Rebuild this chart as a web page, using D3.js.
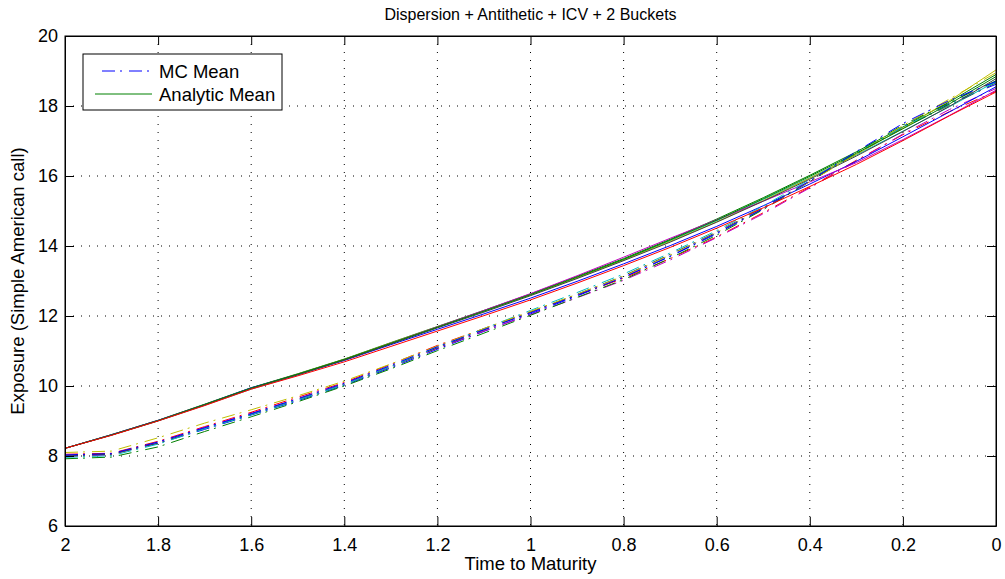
<!DOCTYPE html>
<html>
<head>
<meta charset="utf-8">
<script src="https://cdn.jsdelivr.net/npm/d3@7"></script>
<style>
  body { margin: 0; background: #fff; }
  text { font-family: "Liberation Sans", Arial, sans-serif; fill: #000; }
</style>
</head>
<body>
<svg width="1005" height="579"></svg>
<script>
// time to maturity grid (x), same for every run
const times = [2.0, 1.9, 1.8, 1.7, 1.6, 1.5, 1.4, 1.3, 1.2, 1.1, 1.0, 0.9, 0.8, 0.7, 0.6, 0.5, 0.4, 0.3, 0.2, 0.1, 0.0]

const xTicks = [2, 1.8, 1.6, 1.4, 1.2, 1, 0.8, 0.6, 0.4, 0.2, 0]
const yTicks = [6, 8, 10, 12, 14, 16, 18, 20]

// MC mean runs (dash-dot)
const mc1 = [8.02, 8.06, 8.36, 8.76, 9.17, 9.58, 10.02, 10.52, 11.05, 11.56, 12.06, 12.57, 13.10, 13.70, 14.35, 15.06, 15.84, 16.64, 17.42, 18.08, 18.62]
const mc2 = [8.05, 8.08, 8.42, 8.84, 9.25, 9.68, 10.10, 10.62, 11.16, 11.64, 12.12, 12.60, 13.08, 13.64, 14.26, 14.95, 15.68, 16.45, 17.18, 17.84, 18.42]
const mc3 = [7.98, 8.03, 8.40, 8.82, 9.22, 9.63, 10.06, 10.57, 11.08, 11.57, 12.04, 12.52, 13.02, 13.60, 14.24, 14.92, 15.66, 16.42, 17.20, 17.90, 18.50]
const mc4 = [8.00, 8.05, 8.37, 8.79, 9.19, 9.61, 10.04, 10.55, 11.09, 11.60, 12.11, 12.62, 13.15, 13.76, 14.40, 15.10, 15.85, 16.63, 17.38, 18.02, 18.66]
const mc5 = [7.92, 7.97, 8.26, 8.70, 9.12, 9.55, 10.00, 10.49, 11.01, 11.51, 12.02, 12.53, 13.04, 13.65, 14.31, 15.04, 15.84, 16.68, 17.46, 18.10, 18.72]
const mc6 = [7.96, 8.01, 8.34, 8.78, 9.18, 9.60, 10.04, 10.56, 11.12, 11.64, 12.16, 12.67, 13.20, 13.80, 14.44, 15.14, 15.90, 16.66, 17.40, 18.04, 18.68]
const mc7 = [8.10, 8.14, 8.52, 8.94, 9.32, 9.72, 10.14, 10.63, 11.14, 11.64, 12.13, 12.62, 13.14, 13.74, 14.38, 15.08, 15.84, 16.62, 17.44, 18.20, 18.95]
const mc8 = [8.03, 8.07, 8.40, 8.81, 9.21, 9.64, 10.08, 10.59, 11.12, 11.61, 12.09, 12.59, 13.11, 13.71, 14.37, 15.07, 15.86, 16.70, 17.50, 18.16, 18.70]

// analytic mean runs (solid)
const an1 = [8.22, 8.61, 9.02, 9.48, 9.95, 10.35, 10.77, 11.24, 11.70, 12.16, 12.63, 13.13, 13.64, 14.19, 14.77, 15.38, 16.02, 16.69, 17.40, 18.12, 18.90]
const an2 = [8.22, 8.60, 9.00, 9.45, 9.91, 10.31, 10.74, 11.21, 11.67, 12.13, 12.60, 13.09, 13.61, 14.15, 14.72, 15.33, 15.95, 16.60, 17.28, 17.98, 18.70]
const an3 = [8.22, 8.61, 9.02, 9.47, 9.94, 10.34, 10.76, 11.23, 11.69, 12.14, 12.60, 13.09, 13.60, 14.13, 14.69, 15.30, 15.94, 16.62, 17.36, 18.15, 19.03]
const an4 = [8.22, 8.61, 9.02, 9.47, 9.95, 10.33, 10.73, 11.18, 11.62, 12.06, 12.51, 12.99, 13.49, 14.01, 14.56, 15.15, 15.77, 16.42, 17.12, 17.83, 18.55]
const an5 = [8.22, 8.60, 9.01, 9.46, 9.93, 10.33, 10.75, 11.22, 11.69, 12.16, 12.64, 13.15, 13.68, 14.22, 14.75, 15.28, 15.83, 16.38, 17.04, 17.73, 18.45]
const an6 = [8.22, 8.60, 9.01, 9.46, 9.93, 10.32, 10.74, 11.20, 11.66, 12.11, 12.58, 13.07, 13.58, 14.11, 14.68, 15.28, 15.91, 16.57, 17.27, 17.99, 18.78]
const an7 = [8.22, 8.60, 9.01, 9.47, 9.94, 10.34, 10.76, 11.22, 11.68, 12.14, 12.61, 13.11, 13.62, 14.17, 14.74, 15.35, 15.99, 16.65, 17.35, 18.06, 18.84]
const an8 = [8.22, 8.59, 9.00, 9.44, 9.91, 10.29, 10.69, 11.13, 11.57, 12.01, 12.46, 12.94, 13.44, 13.96, 14.51, 15.09, 15.70, 16.33, 17.01, 17.72, 18.40]

// matlab colours
const B = "#0000ff", G = "#008000", R = "#ff0000", C = "#00bfbf", M = "#bf00bf", Y = "#bfbf00", K = "#404040"

const mcRuns = [mc1, mc2, mc3, mc4, mc5, mc6, mc7, mc8]
const mcColors = [B, R, M, K, G, C, Y, B]
const anRuns = [an1, an2, an3, an4, an5, an6, an7, an8]
const anColors = [G, C, Y, B, M, K, G, R]

const svg = d3.select("svg")
const mLeft = 65, mRight = 996, mTop = 36, mBottom = 526

const x = d3.scaleLinear().domain([2, 0]).range([mLeft, mRight])
const y = d3.scaleLinear().domain([6, 20]).range([mBottom, mTop])

// grid
const grid = svg.append("g")
grid.selectAll(".gx").data(xTicks.slice(1, -1)).enter().append("line")
    .attr("x1", d => x(d)).attr("x2", d => x(d))
    .attr("y1", mTop).attr("y2", mBottom)
    .attr("stroke", "#000").attr("stroke-width", 1).attr("stroke-dasharray", "1,7")
grid.selectAll(".gy").data(yTicks.slice(1, -1)).enter().append("line")
    .attr("x1", mLeft).attr("x2", mRight)
    .attr("y1", d => y(d)).attr("y2", d => y(d))
    .attr("stroke", "#000").attr("stroke-width", 1).attr("stroke-dasharray", "1,7")

// runs, drawn in pairs as in the original plot
const line = d3.line().x((d, i) => x(times[i])).y(d => y(d))
const plot = svg.append("g")
mcRuns.forEach((run, i) => {
    plot.append("path").datum(run)
        .attr("d", line).attr("fill", "none")
        .attr("stroke", mcColors[i]).attr("stroke-width", 1)
        .attr("stroke-dasharray", "13,5,2,7")
    plot.append("path").datum(anRuns[i])
        .attr("d", line).attr("fill", "none")
        .attr("stroke", anColors[i]).attr("stroke-width", 1)
})

// axes with inward ticks on all sides
const tickFont = 18, labelFont = 18.5
svg.append("g").attr("transform", `translate(0,${mBottom})`)
    .call(d3.axisBottom(x).tickValues(xTicks).tickFormat(d3.format("")).tickSizeInner(-9).tickSizeOuter(0).tickPadding(12))
svg.append("g").attr("transform", `translate(0,${mTop})`)
    .call(d3.axisTop(x).tickValues(xTicks).tickFormat("").tickSizeInner(-9).tickSizeOuter(0))
svg.append("g").attr("transform", `translate(${mLeft},0)`)
    .call(d3.axisLeft(y).tickValues(yTicks).tickSizeInner(-9).tickSizeOuter(0).tickPadding(7))
svg.append("g").attr("transform", `translate(${mRight},0)`)
    .call(d3.axisRight(y).tickValues(yTicks).tickFormat("").tickSizeInner(-9).tickSizeOuter(0))

svg.selectAll(".domain").attr("stroke", "#000")
svg.selectAll(".tick line").attr("stroke", "#000")
svg.selectAll(".tick text")
    .attr("font-family", "Liberation Sans, Arial, sans-serif")
    .attr("font-size", tickFont).attr("fill", "#000")

// box
svg.append("rect").attr("x", mLeft).attr("y", mTop)
    .attr("width", mRight - mLeft).attr("height", mBottom - mTop)
    .attr("fill", "none").attr("stroke", "#000").attr("stroke-width", 1)

// labels
svg.append("text").attr("x", (mLeft + mRight) / 2).attr("y", 20)
    .attr("text-anchor", "middle").attr("font-size", 16)
    .text("Dispersion + Antithetic + ICV + 2 Buckets")
svg.append("text").attr("x", (mLeft + mRight) / 2).attr("y", 570)
    .attr("text-anchor", "middle").attr("font-size", labelFont)
    .text("Time to Maturity")
svg.append("text").attr("transform", `translate(24,${(mTop + mBottom) / 2}) rotate(-90)`)
    .attr("text-anchor", "middle").attr("font-size", labelFont)
    .text("Exposure (Simple American call)")

// legend
const legend = svg.append("g")
legend.append("rect").attr("x", 83).attr("y", 54).attr("width", 199).attr("height", 56)
    .attr("fill", "#fff").attr("stroke", "#000").attr("stroke-width", 1)
const entries = [
    {label: "MC Mean", color: mcColors[0], dash: "13,5,2,7"},
    {label: "Analytic Mean", color: anColors[0], dash: null}
]
entries.forEach((e, i) => {
    const ly = 71 + i * 23
    legend.append("line").attr("x1", 95).attr("x2", 152).attr("y1", ly).attr("y2", ly)
        .attr("stroke", e.color).attr("stroke-width", 1)
        .attr("stroke-dasharray", e.dash).attr("stroke-dashoffset", e.dash ? 20 : null)
    legend.append("text").attr("x", 159).attr("y", ly + 6.5)
        .attr("font-size", labelFont).text(e.label)
})
</script>
</body>
</html>
